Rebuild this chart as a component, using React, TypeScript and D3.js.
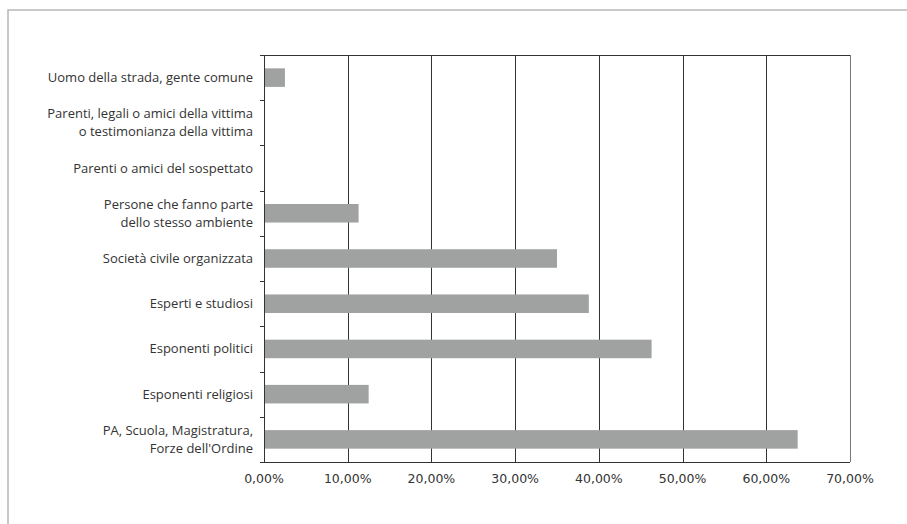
import React from "react";
import * as d3 from "d3";

const categories: string[][] = [
  ["Uomo della strada, gente comune"],
  ["Parenti, legali o amici della vittima", "o testimonianza della vittima"],
  ["Parenti o amici del sospettato"],
  ["Persone che fanno parte", "dello stesso ambiente"],
  ["Società civile organizzata"],
  ["Esperti e studiosi"],
  ["Esponenti politici"],
  ["Esponenti religiosi"],
  ["PA, Scuola, Magistratura,", "Forze dell'Ordine"],
];
const values: number[] = [2.5, 0, 0, 11.3, 35.0, 38.8, 46.3, 12.5, 63.75];
const xTicks: number[] = [0, 10, 20, 30, 40, 50, 60, 70];

export default function App() {
  const W = 907, H = 524;
  const left = 264, right = 850, top = 55, bottom = 462;
  const x = d3.scaleLinear().domain([0, 70]).range([left, right]);
  const y = d3.scaleBand<number>().domain(d3.range(categories.length)).range([top, bottom]).paddingInner(0.59).paddingOuter(0.295);
  const yb = d3.scaleBand<number>().domain(d3.range(categories.length)).range([top, bottom]);
  const fmt = (v: number) => v.toFixed(2).replace(".", ",") + "%";
  return (
    <svg width={W} height={H} style={{ position: "absolute", left: 0, top: 0, display: "block" }}>
      <rect x={0} y={0} width={W} height={H} fill="#fff" />
      <rect x={8} y={10} width={W + 20} height={H + 20} fill="none" stroke="#b8b8b8" strokeWidth={1.5} />
      {xTicks.slice(1).map((t) => (
        <line key={t} x1={Math.round(x(t)) + 0.5} x2={Math.round(x(t)) + 0.5} y1={top} y2={bottom} stroke={t === 70 ? "#777" : "#333"} strokeWidth={1} />
      ))}
      <line x1={left} x2={right} y1={top + 0.5} y2={top + 0.5} stroke="#333" strokeWidth={1} />
      {values.map((v, i) => (
        v > 0 ? <rect key={i} x={x(0)} y={y(i)} width={x(v) - x(0)} height={y.bandwidth()} fill="#a0a2a1" /> : null
      ))}
      <line x1={left + 0.5} x2={left + 0.5} y1={top} y2={bottom} stroke="#333" strokeWidth={1} />
      <line x1={left - 4} x2={right} y1={bottom + 0.5} y2={bottom + 0.5} stroke="#333" strokeWidth={1} />
      {d3.range(categories.length + 1).map((i) => {
        const yy = i < categories.length ? (yb(i) as number) : bottom;
        return <line key={i} x1={left - 4} x2={left} y1={Math.round(yy) + 0.5} y2={Math.round(yy) + 0.5} stroke="#333" />;
      })}
      {xTicks.map((t) => (
        <text key={t} x={x(t)} y={bottom + 21} textAnchor="middle" fontFamily="DejaVu Sans" fontSize={12.5} fill="#333">{fmt(t)}</text>
      ))}
      {categories.map((lines, i) => {
        const cy = (yb(i) as number) + yb.bandwidth() / 2;
        const lh = 18;
        const start = cy - ((lines.length - 1) * lh) / 2;
        return (
          <text key={i} textAnchor="end" fontFamily="Open Sans" fontSize={13} fill="#333">
            {lines.map((l, j) => (
              <tspan key={j} x={253} y={start + j * lh} dy="0.35em">{l}</tspan>
            ))}
          </text>
        );
      })}
    </svg>
  );
}
